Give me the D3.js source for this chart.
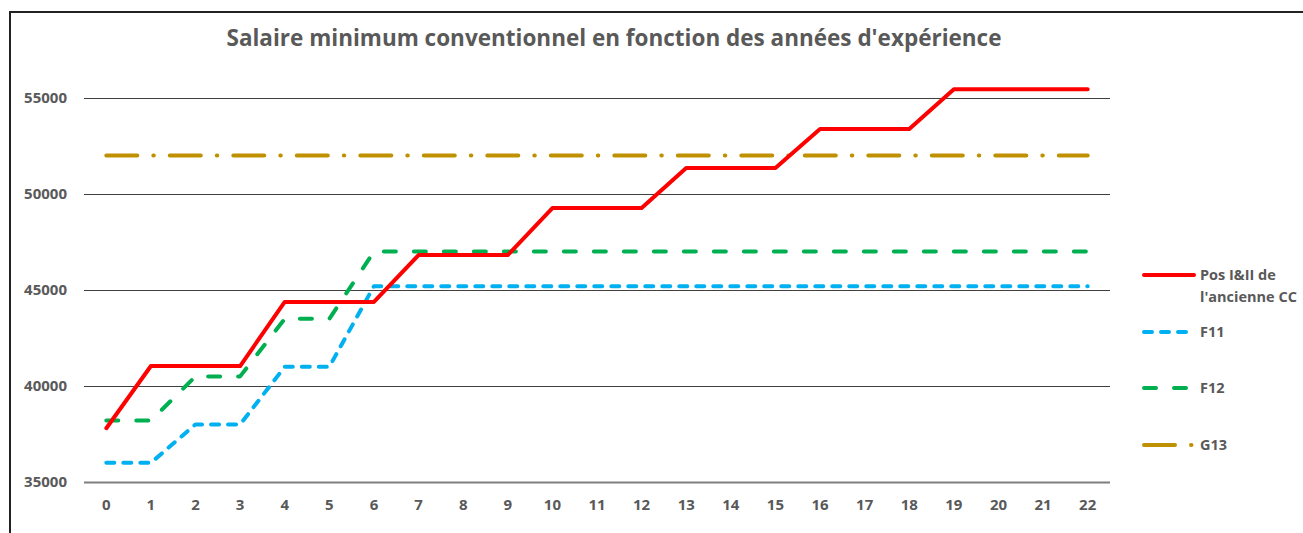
<!DOCTYPE html>
<html lang="fr">
<head>
<meta charset="UTF-8">
<title>Salaire minimum conventionnel</title>
<style>
    body { margin: 0; background: #fff; }
    svg { display: block; }
    text { font-family: "Open Sans", sans-serif; font-weight: bold; fill: #595959; }
</style>
</head>
<body>
<svg id="chart"></svg>
<script src="https://d3js.org/d3.v7.min.js"></script>
<script>
// years of experience (categories)
const years = d3.range(0, 23).map(String);
const yTicks = [35000, 40000, 45000, 50000, 55000];

// series values
const posIII = [37800, 41040, 41040, 41040, 44380, 44380, 44380, 46820, 46820, 46820,
    49270, 49270, 49270, 51350, 51350, 51350, 53380, 53380, 53380, 55450, 55450, 55450, 55450];
const f11 = [36000, 36000, 38000, 38000, 41000, 41000, 45200, 45200, 45200, 45200,
    45200, 45200, 45200, 45200, 45200, 45200, 45200, 45200, 45200, 45200, 45200, 45200, 45200];
const f12 = [38200, 38200, 40500, 40500, 43500, 43500, 47000, 47000, 47000, 47000,
    47000, 47000, 47000, 47000, 47000, 47000, 47000, 47000, 47000, 47000, 47000, 47000, 47000];
const g13 = [52000, 52000, 52000, 52000, 52000, 52000, 52000, 52000, 52000, 52000,
    52000, 52000, 52000, 52000, 52000, 52000, 52000, 52000, 52000, 52000, 52000, 52000, 52000];

const series = [
    { name: ["Pos I&II de", "l'ancienne CC"], values: posIII, color: "#ff0000", dash: null, legendY: 275 },
    { name: ["F11"], values: f11, color: "#00b0f0", dash: "8,9", legendY: 332 },
    { name: ["F12"], values: f12, color: "#00b050", dash: "12,18", legendY: 388 },
    { name: ["G13"], values: g13, color: "#bf9000", dash: "31,16,0.5,16", legendY: 445 }
];

const width = 1303, height = 533;
const svg = d3.select("#chart").attr("width", width).attr("height", height);

// chart frame (only top and left edges are visible)
svg.append("path")
    .attr("d", `M10,${height} L10,12 L${width},12`)
    .attr("fill", "none")
    .attr("stroke", "#222")
    .attr("stroke-width", 2);

svg.append("text")
    .attr("x", 614)
    .attr("y", 46)
    .attr("text-anchor", "middle")
    .style("font-size", "22.5px")
    .text("Salaire minimum conventionnel en fonction des années d'expérience");

const plot = { left: 84, right: 1110, top: 98, bottom: 482 };

const x = d3.scaleBand().domain(years).range([plot.left, plot.right]);
const y = d3.scaleLinear().domain([35000, 55000]).range([plot.bottom, plot.top]);

// gridlines
svg.append("g")
    .selectAll("line")
    .data(yTicks)
    .join("line")
    .attr("x1", plot.left)
    .attr("x2", plot.right)
    .attr("y1", d => Math.round(y(d)) + 0.5)
    .attr("y2", d => Math.round(y(d)) + 0.5)
    .attr("stroke", d => d === 35000 ? "#7f7f7f" : "#404040")
    .attr("stroke-width", d => d === 35000 ? 2 : 1);

// y tick labels
svg.append("g")
    .selectAll("text")
    .data(yTicks)
    .join("text")
    .attr("x", 67)
    .attr("y", d => y(d))
    .attr("dy", "0.35em")
    .attr("text-anchor", "end")
    .style("font-size", "15px")
    .text(d => d);

// x tick labels
svg.append("g")
    .selectAll("text")
    .data(years)
    .join("text")
    .attr("x", d => x(d) + x.bandwidth() / 2)
    .attr("y", 505)
    .attr("dy", "0.35em")
    .attr("text-anchor", "middle")
    .style("font-size", "15px")
    .text(d => d);

const line = d3.line()
    .x((d, i) => x(years[i]) + x.bandwidth() / 2)
    .y(d => y(d));

// draw G13 first so the others sit on top, like the original
[series[3], series[1], series[2], series[0]].forEach(s => {
    svg.append("path")
        .datum(s.values)
        .attr("d", line)
        .attr("fill", "none")
        .attr("stroke", s.color)
        .attr("stroke-width", 4)
        .attr("stroke-linecap", "round")
        .attr("stroke-linejoin", "round")
        .attr("stroke-dasharray", s.dash);
});

// legend
const legend = svg.append("g");
series.forEach(s => {
    legend.append("line")
        .attr("x1", 1144)
        .attr("x2", 1194)
        .attr("y1", s.legendY)
        .attr("y2", s.legendY)
        .attr("stroke", s.color)
        .attr("stroke-width", 4)
        .attr("stroke-linecap", "round")
        .attr("stroke-dasharray", s.dash);
    const t = legend.append("text")
        .attr("x", 1200)
        .attr("y", s.legendY)
        .style("font-size", "14.5px");
    s.name.forEach((n, i) => {
        t.append("tspan").attr("x", 1200).attr("dy", i === 0 ? "0.35em" : "1.5em").text(n);
    });
});
</script>
</body>
</html>
